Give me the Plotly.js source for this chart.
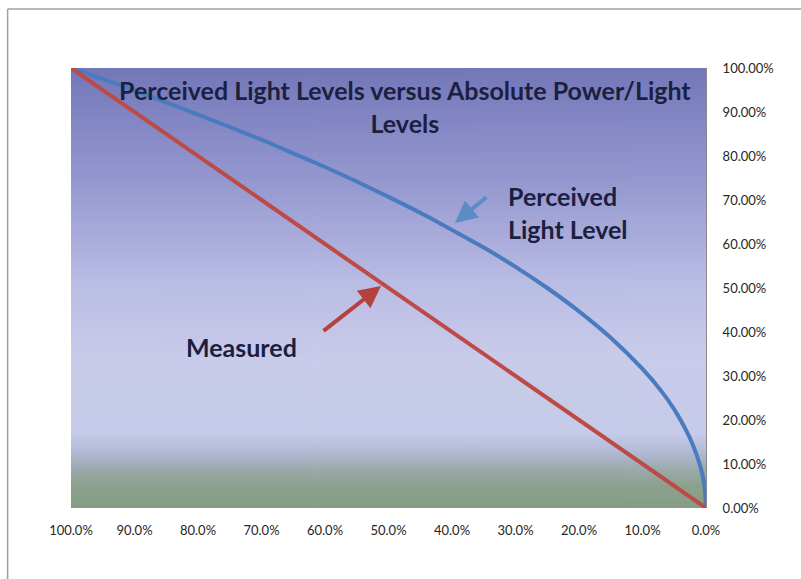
<!DOCTYPE html>
<html>
<head>
<meta charset="utf-8">
<script src="https://cdn.plot.ly/plotly-3.0.1.min.js"></script>
<style>html,body{margin:0;padding:0;background:#fff;}#chart{width:801px;height:579px;}</style>
</head>
<body>
<div id="chart"></div>
<script>
// Data (absolute power/light level, in %)
var absoluteLevel = [100, 95, 90, 85, 80, 75, 70, 65, 60, 55, 50, 45, 40, 35, 30, 25, 20, 15, 10, 7, 5, 3, 2, 1, 0.5, 0.2, 0];
var perceivedLevel = [100, 97.5, 94.9, 92.2, 89.4, 86.6, 83.7, 80.6, 77.5, 74.2, 70.7, 67.1, 63.2, 59.2, 54.8, 50.0, 44.7, 38.7, 31.6, 26.5, 22.4, 17.3, 14.1, 10.0, 7.1, 4.5, 0];
var measuredX = [100, 0];
var measuredY = [100, 0];
var xTickVals = [100, 90, 80, 70, 60, 50, 40, 30, 20, 10, 0];
var xTickText = ['100.0%', '90.0%', '80.0%', '70.0%', '60.0%', '50.0%', '40.0%', '30.0%', '20.0%', '10.0%', '0.0%'];
var yTickVals = [0, 10, 20, 30, 40, 50, 60, 70, 80, 90, 100];
var yTickText = ['0.00%', '10.00%', '20.00%', '30.00%', '40.00%', '50.00%', '60.00%', '70.00%', '80.00%', '90.00%', '100.00%'];

// background gradient image
function gradientURL() {
  var c = document.createElement('canvas');
  c.width = 4; c.height = 440;
  var g = c.getContext('2d');
  var gr = g.createLinearGradient(0, 0, 0, 440);
  gr.addColorStop(0.00, '#7377b8');
  gr.addColorStop(0.25, '#9497cf');
  gr.addColorStop(0.50, '#bbbee4');
  gr.addColorStop(0.66, '#c8cbe9');
  gr.addColorStop(0.83, '#c5cbe8');
  gr.addColorStop(0.87, '#b3bbd7');
  gr.addColorStop(0.91, '#9daaae');
  gr.addColorStop(0.95, '#8ca18c');
  gr.addColorStop(1.00, '#849c84');
  g.fillStyle = gr;
  g.fillRect(0, 0, 4, 440);
  return c.toDataURL('image/png');
}

var txtFont = 'Lato, "Open Sans", sans-serif';

var traces = [
  {
    x: absoluteLevel, y: perceivedLevel, type: 'scatter', mode: 'lines',
    line: {color: '#4a7bbf', width: 4, shape: 'spline', smoothing: 0.6},
    name: 'Perceived', hoverinfo: 'skip', cliponaxis: false
  },
  {
    x: measuredX, y: measuredY, type: 'scatter', mode: 'lines',
    line: {color: '#bd4a47', width: 4},
    name: 'Measured', hoverinfo: 'skip', cliponaxis: false
  }
];

var layout = {
  width: 801, height: 579,
  margin: {l: 70.5, r: 94.5, t: 68, b: 71},
  paper_bgcolor: '#ffffff',
  plot_bgcolor: 'rgba(0,0,0,0)',
  showlegend: false,
  xaxis: {
    range: [100, 0], tickvals: xTickVals, ticktext: xTickText,
    showgrid: false, zeroline: false, showline: false, ticks: '',
    ticklabelstandoff: 13,
    tickfont: {family: txtFont, size: 13, color: '#262626'}
  },
  yaxis: {
    range: [0, 100], tickvals: yTickVals, ticktext: yTickText,
    side: 'right', showgrid: false, zeroline: false,
    showline: true, linecolor: '#8a8a8a', linewidth: 1, ticks: '',
    ticklabelstandoff: 13,
    tickfont: {family: txtFont, size: 13, color: '#262626'}
  },
  images: [{
    source: gradientURL(), xref: 'paper', yref: 'paper',
    x: 0, y: 1, sizex: 1, sizey: 1, sizing: 'stretch', layer: 'below',
    xanchor: 'left', yanchor: 'top'
  }],
  shapes: [
    {type: 'line', xref: 'paper', yref: 'paper', x0: -63.5/636, x1: 2, y0: 1 + 59/440, y1: 1 + 59/440, line: {color: '#a0a0a0', width: 1.5}},
    {type: 'line', xref: 'paper', yref: 'paper', x0: -63.5/636, x1: -63.5/636, y0: 1 + 59/440, y1: -1, line: {color: '#a0a0a0', width: 1.5}}
  ],
  annotations: [
    {text: '<b>Perceived Light Levels versus Absolute Power/Light<br>Levels</b>', xref: 'paper', yref: 'paper',
     x: (405 - 70.5) / 636, y: (508 - 106.75) / 440, xanchor: 'center', yanchor: 'middle', align: 'center',
     showarrow: false, font: {family: txtFont, size: 25, color: '#1c2040'}},
    {text: '<b>Perceived<br>Light Level</b>', xref: 'paper', yref: 'paper',
     x: (506 - 70.5) / 636, y: (508 - 212.5) / 440, xanchor: 'left', yanchor: 'middle', align: 'left',
     showarrow: false, font: {family: txtFont, size: 25, color: '#1c2040'}},
    {text: '<b>Measured</b>', xref: 'paper', yref: 'paper',
     x: (241 - 70.5) / 636, y: (508 - 347) / 440, xanchor: 'center', yanchor: 'middle',
     showarrow: false, font: {family: txtFont, size: 25, color: '#1c2040'}},
    {text: '', xref: 'paper', yref: 'paper', x: (455 - 70.5) / 636, y: (508 - 223) / 440,
     ax: 33, ay: -27, showarrow: true, arrowhead: 2, arrowsize: 1.1, arrowwidth: 4, arrowcolor: '#5b8cc6'},
    {text: '', xref: 'paper', yref: 'paper', x: (381 - 70.5) / 636, y: (508 - 286) / 440,
     ax: -59, ay: 46, showarrow: true, arrowhead: 2, arrowsize: 1.1, arrowwidth: 4, arrowcolor: '#b5413f'}
  ]
};

Plotly.newPlot('chart', traces, layout, {displayModeBar: false, staticPlot: true});
</script>
</body>
</html>
